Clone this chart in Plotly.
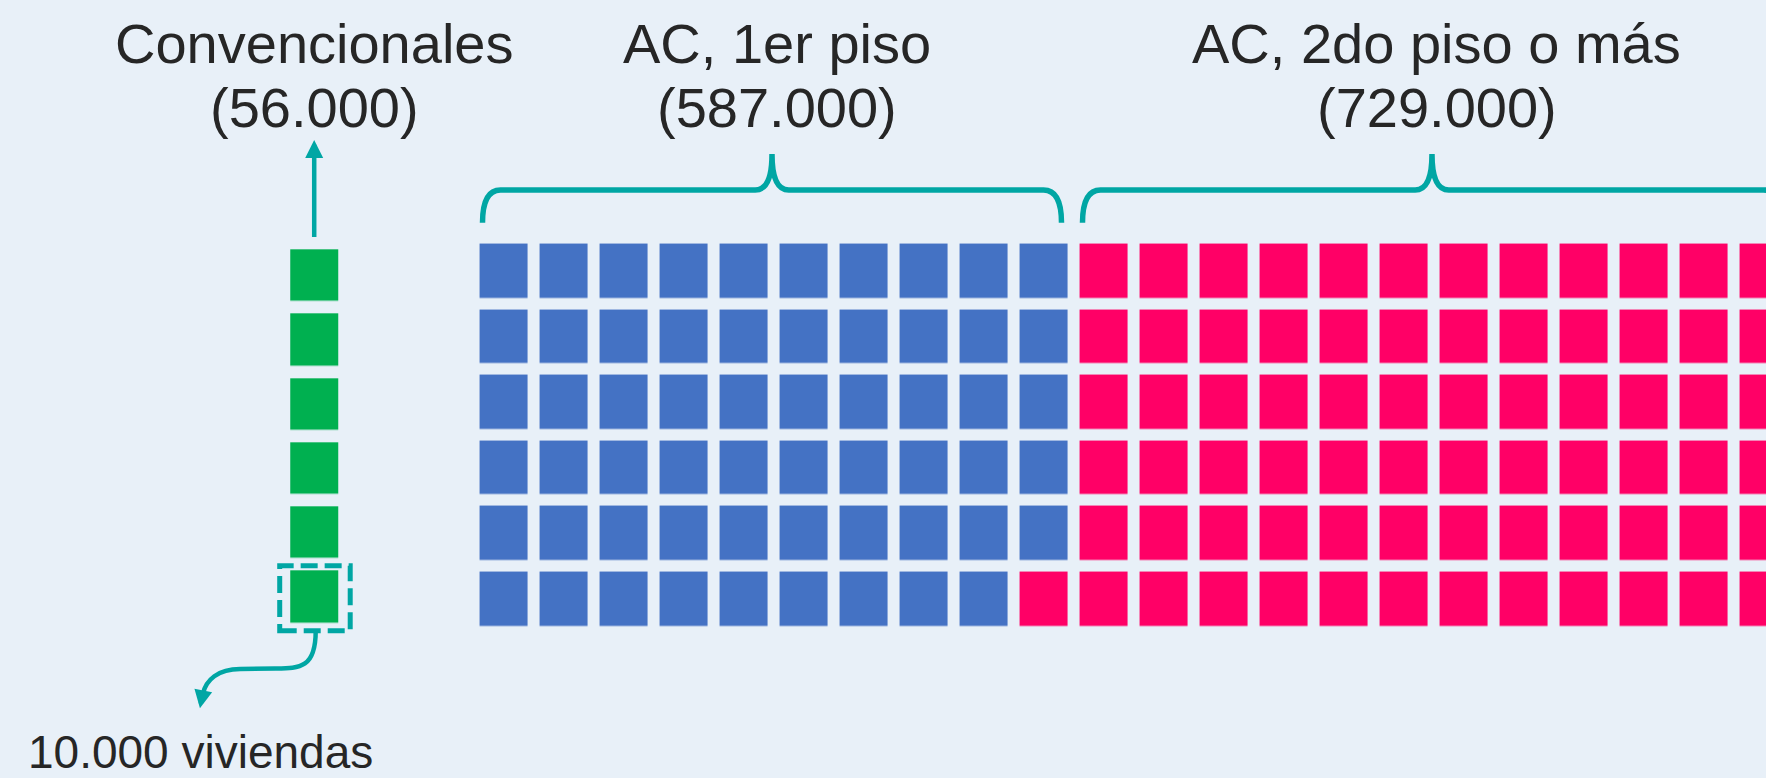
import plotly.graph_objects as go
import numpy as np

# datos
categorias = ["Convencionales", "AC, 1er piso", "AC, 2do piso o más"]
viviendas = [56000, 587000, 729000]
etiquetas = ["(56.000)", "(587.000)", "(729.000)"]
unidad = 10000
texto_unidad = "10.000 viviendas"

colores = ["#00B050", "#4472C4", "#FF0066"]
TEAL = "#00A6A4"
FONDO = "#E8F0F8"
TEXTO = "#262626"
FUENTE = "Liberation Sans"

FILAS = 6
n_cuadros = [round(v / unidad) for v in viviendas]

# grilla de AC, se llena por columnas de arriba hacia abajo
codigos = [1] * n_cuadros[1] + [2] * n_cuadros[2]
n_cols = -(-len(codigos) // FILAS)
z = np.full((FILAS, n_cols), np.nan)
for k, c in enumerate(codigos):
    col, fila = divmod(k, FILAS)
    z[FILAS - 1 - fila, col] = c

# columna de convencionales
X_VERDE = -3.155
z_verde = [[0] for _ in range(n_cuadros[0])]

escala = [[0, colores[0]], [1 / 3, colores[0]],
          [1 / 3, colores[1]], [2 / 3, colores[1]],
          [2 / 3, colores[2]], [1, colores[2]]]

fig = go.Figure()
fig.add_trace(go.Heatmap(
    z=z, x=list(range(n_cols)), y=list(range(FILAS)),
    colorscale=escala, zmin=0, zmax=2, showscale=False,
    xgap=12, ygap=11.6, hoverinfo='skip',
))
fig.add_trace(go.Heatmap(
    z=z_verde, x0=X_VERDE, dx=1, y0=0.037, dy=0.98,
    colorscale=escala, zmin=0, zmax=2, showscale=False,
    xgap=12, ygap=12.6, hoverinfo='skip',
))


def llave(x0, x1, yb=5.74, yh=6.24, yt=6.79, r=0.3, rt=0.28):
    xm = (x0 + x1) / 2
    return (f"M{x0},{yb} Q{x0},{yh} {x0 + r},{yh} L{xm - rt},{yh} "
            f"Q{xm},{yh} {xm},{yt} Q{xm},{yh} {xm + rt},{yh} "
            f"L{x1 - r},{yh} Q{x1},{yh} {x1},{yb}")


def texto(x, y, t, size=56):
    return dict(x=x, y=y, xref='x', yref='y', text=t, showarrow=False,
                borderpad=0, borderwidth=0,
                font=dict(size=size, color=TEXTO, family=FUENTE))


shapes = []
annotations = []

# llaves sobre cada grupo de AC (según las columnas que ocupa en la fila superior)
for cod in (1, 2):
    cols_grupo = np.where(z[FILAS - 1] == cod)[0]
    x0 = cols_grupo.min() - 0.5 + 0.15
    x1 = cols_grupo.max() + 0.5 - 0.2
    shapes.append(dict(type='path', xref='x', yref='y', path=llave(x0, x1),
                       line=dict(color=TEAL, width=5.5)))
    xc = (x0 + x1) / 2 + 0.08
    annotations.append(texto(xc, 8.476, categorias[cod]))
    annotations.append(texto(xc, 7.50, etiquetas[cod]))

# etiqueta de convencionales con flecha hacia arriba
annotations.append(texto(X_VERDE, 8.476, categorias[0]))
annotations.append(texto(X_VERDE, 7.50, etiquetas[0]))
annotations.append(dict(x=X_VERDE, y=7.0, ax=X_VERDE, ay=5.5, xref='x', yref='y',
                        axref='x', ayref='y', text='', showarrow=True, arrowhead=2,
                        arrowsize=0.8, arrowwidth=4.5, arrowcolor=TEAL))

# recuadro punteado sobre un cuadro = unidad
shapes.append(dict(type='rect', xref='x', yref='y',
                   x0=X_VERDE - 0.575, x1=X_VERDE + 0.6, y0=-0.48, y1=0.51,
                   line=dict(color=TEAL, width=5, dash='17px,7px')))

# flecha curva hacia la leyenda
shapes.append(dict(type='path', xref='x', yref='y',
                   path=("M-3.13,-0.48 C-3.13,-1.05 -3.39,-1.05 -3.8,-1.055 "
                         "L-4.39,-1.062 C-4.76,-1.062 -4.96,-1.23 -5.01,-1.44"),
                   line=dict(color=TEAL, width=4.5)))
annotations.append(dict(x=-5.06, y=-1.66, ax=-5.01, ay=-1.42, xref='x', yref='y',
                        axref='x', ayref='y', text='', showarrow=True, arrowhead=2,
                        arrowsize=0.8, arrowwidth=4.5, arrowcolor=TEAL))
annotations.append(texto(-5.045, -2.33, texto_unidad, size=46))

fig.update_layout(
    width=1766, height=778,
    margin=dict(l=0, r=0, t=0, b=0),
    paper_bgcolor=FONDO, plot_bgcolor=FONDO,
    xaxis=dict(range=[-8.392, 21.042], visible=False, fixedrange=True),
    yaxis=dict(range=[-2.724, 9.136], visible=False, fixedrange=True),
    shapes=shapes, annotations=annotations,
    showlegend=False,
)

fig.write_html("out.html", config={'displayModeBar': False},
               post_script="document.body.style.margin='0';")
